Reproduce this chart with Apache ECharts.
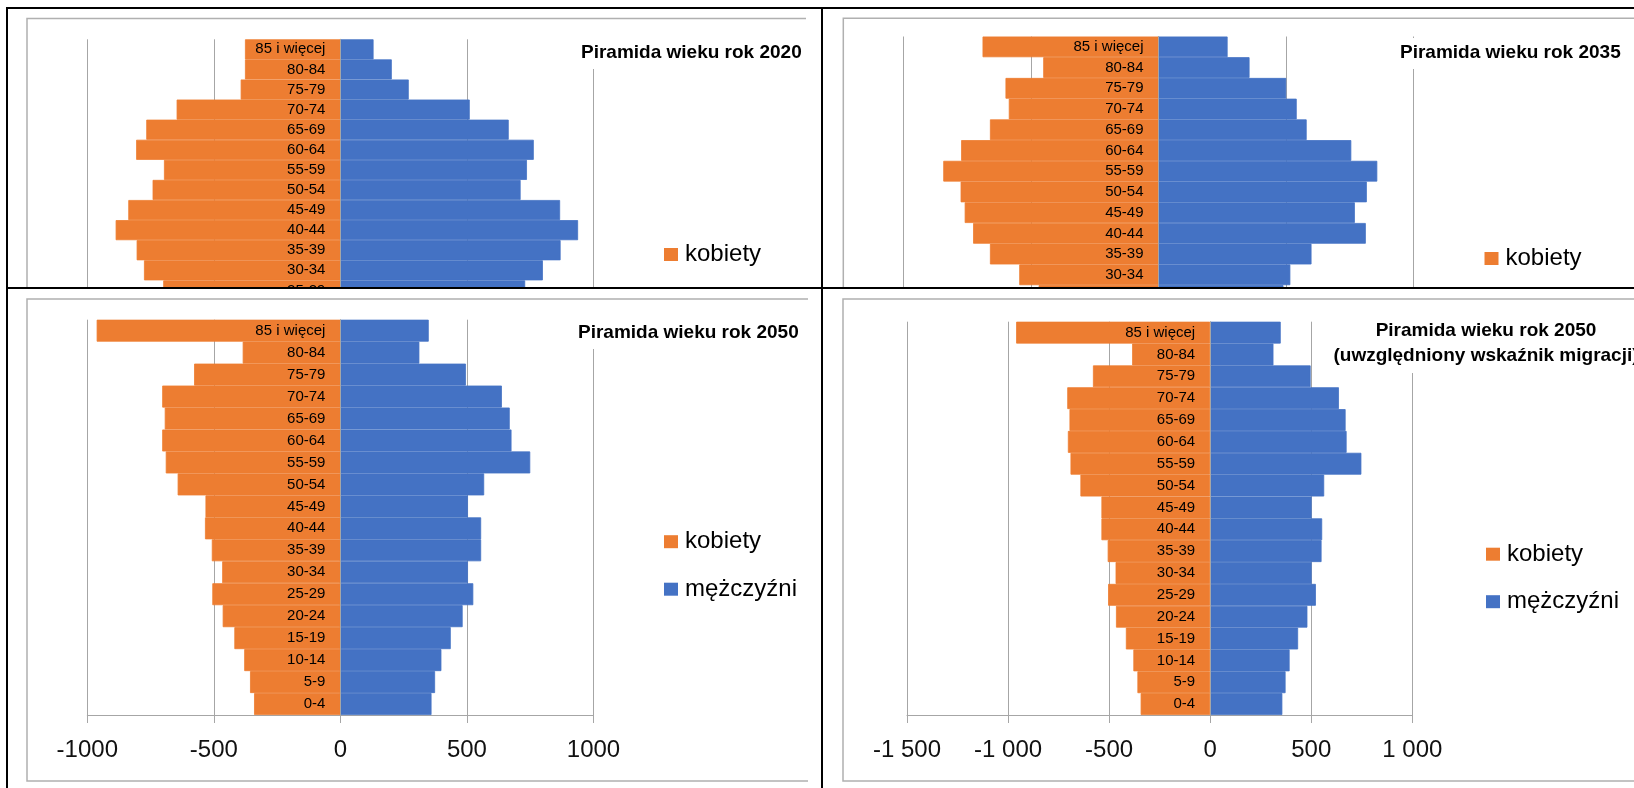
<!DOCTYPE html>
<html lang="pl">
<head>
<meta charset="UTF-8">
<title>Piramida wieku</title>
<script src="https://cdn.jsdelivr.net/npm/echarts@6/dist/echarts.min.js"></script>
<style>
    body { margin: 0; background: #fff; width: 1634px; height: 788px; overflow: hidden; position: relative; }
    .box { position: absolute; overflow: hidden; }
    .line { position: absolute; background: #000; z-index: 10; }
</style>
</head>
<body>
<div class="box" style="left:0;top:0;width:821px;height:287px"><div id="c2020" style="width:821px;height:470px"></div></div>
<div class="box" style="left:823px;top:0;width:811px;height:287px"><div id="c2035" style="width:811px;height:470px"></div></div>
<div class="box" style="left:0;top:289px;width:821px;height:499px"><div id="c2050" style="width:821px;height:499px"></div></div>
<div class="box" style="left:823px;top:289px;width:811px;height:499px"><div id="c2050m" style="width:811px;height:499px"></div></div>

<div class="line" style="left:6px;top:7px;width:2px;height:781px"></div>
<div class="line" style="left:6px;top:7px;width:1628px;height:2px"></div>
<div class="line" style="left:821px;top:7px;width:2px;height:781px"></div>
<div class="line" style="left:6px;top:287px;width:1628px;height:2px"></div>

<script>
    // grupy wieku, od dołu do góry
    var categories = ['0-4', '5-9', '10-14', '15-19', '20-24', '25-29', '30-34', '35-39', '40-44',
        '45-49', '50-54', '55-59', '60-64', '65-69', '70-74', '75-79', '80-84', '85 i więcej'];

    var women2020 = [-560, -600, -540, -520, -600, -700, -776, -805, -888, -838, -742, -697, -807, -767, -647, -394, -377, -377];
    var men2020 = [590, 630, 570, 545, 630, 730, 800, 870, 939, 868, 712, 737, 764, 665, 511, 270, 203, 131];

    var women2035 = [-470, -520, -540, -500, -450, -470, -546, -661, -727, -760, -776, -844, -774, -661, -587, -600, -452, -690];
    var men2035 = [495, 545, 560, 520, 470, 490, 517, 600, 813, 770, 817, 858, 756, 581, 542, 501, 357, 271];

    var women2050 = [-341, -357, -380, -419, -465, -506, -467, -508, -535, -533, -643, -690, -704, -694, -704, -578, -386, -963];
    var men2050 = [360, 374, 399, 436, 483, 525, 504, 556, 556, 504, 568, 750, 676, 669, 638, 496, 312, 349];

    var women2050m = [-344, -360, -380, -417, -466, -505, -468, -507, -538, -538, -642, -691, -704, -696, -707, -580, -386, -960];
    var men2050m = [357, 373, 393, 435, 481, 523, 502, 551, 554, 502, 564, 748, 675, 670, 637, 497, 313, 349];

    var ticksA = ['-1000', '-500', '0', '500', '1000'];
    var ticksB = ['-1 500', '-1 000', '-500', '0', '500', '1 000'];

    var FONT = "'Liberation Sans', Arial, sans-serif";
    var GRAY = '#a6a6a6';
    var ORANGE = '#ed7d31';
    var BLUE = '#4472c4';

    function pyramid(id, p) {
        var chart = echarts.init(document.getElementById(id));
        // przesunięcie osi kategorii na wartość 0
        var zeroShift = p.grid.width * (0 - p.min) / (p.max - p.min);
        var f = p.frame;
        chart.setOption({
            animation: false,
            textStyle: {fontFamily: FONT},
            title: {
                text: p.title,
                left: p.titleLeft,
                top: p.titleTop,
                textAlign: p.titleAlign,
                padding: [4, 6, 5, 6],
                backgroundColor: '#fff',
                textStyle: {fontFamily: FONT, fontSize: 19, fontWeight: 'bold', color: '#000', lineHeight: p.titleLH || 22}
            },
            legend: {
                data: ['kobiety', 'mężczyźni'],
                orient: 'vertical',
                left: p.legendLeft,
                top: p.legendTop,
                padding: 0,
                itemWidth: 14,
                itemHeight: 13,
                itemGap: 23.5,
                icon: 'rect',
                itemStyle: {borderWidth: 0},
                textStyle: {fontFamily: FONT, fontSize: 24, lineHeight: 24, color: '#000', padding: [0, 0, 0, 2]}
            },
            graphic: [{
                type: 'polyline',
                shape: {points: [[f.x2, f.y1], [f.x1, f.y1], [f.x1, f.y2], [f.x2, f.y2]]},
                style: {fill: 'none', stroke: '#b0b0b0', lineWidth: 1.5},
                silent: true
            }],
            grid: p.grid,
            xAxis: {
                type: 'value',
                min: p.min,
                max: p.max,
                interval: 500,
                axisLine: {show: true, onZero: false, lineStyle: {color: GRAY}},
                axisTick: {show: true, length: 8, lineStyle: {color: GRAY}},
                splitLine: {show: true, lineStyle: {color: GRAY, width: 1}},
                axisLabel: {
                    margin: 23,
                    fontSize: 24,
                    lineHeight: 24,
                    color: '#111',
                    fontFamily: FONT,
                    formatter: function (v) { return p.ticks[Math.round((v - p.min) / 500)]; }
                }
            },
            yAxis: {
                type: 'category',
                data: categories,
                z: 5,
                offset: -zeroShift,
                axisLine: {onZero: false, lineStyle: {color: GRAY}},
                axisTick: {length: 5, lineStyle: {color: GRAY}},
                axisLabel: {margin: 15, fontSize: 15, color: '#000', fontFamily: FONT}
            },
            series: [
                {name: 'kobiety', type: 'bar', data: p.women, barGap: '-100%', barCategoryGap: 0,
                    itemStyle: {color: ORANGE, borderColor: ORANGE, borderWidth: 0.8}},
                {name: 'mężczyźni', type: 'bar', data: p.men, barGap: '-100%', barCategoryGap: 0,
                    itemStyle: {color: BLUE, borderColor: BLUE, borderWidth: 0.8}}
            ]
        });
    }

    pyramid('c2020', {
        title: 'Piramida wieku rok 2020', titleLeft: 575, titleTop: 38,
        legendLeft: 664, legendTop: 242.5,
        grid: {left: 87.3, top: 39.3, width: 506.2, height: 361.6},
        frame: {x1: 27, y1: 18.5, x2: 806, y2: 700},
        min: -1000, max: 1000, ticks: ticksA,
        women: women2020, men: men2020
    });

    pyramid('c2035', {
        title: 'Piramida wieku rok 2035', titleLeft: 571, titleTop: 38,
        legendLeft: 661.5, legendTop: 246.5,
        grid: {left: 80.5, top: 36.5, width: 510, height: 373},
        frame: {x1: 20.3, y1: 18.3, x2: 1000, y2: 700},
        min: -1000, max: 1000, ticks: ticksA,
        women: women2035, men: men2035
    });

    pyramid('c2050', {
        title: 'Piramida wieku rok 2050', titleLeft: 572, titleTop: 29,
        legendLeft: 664, legendTop: 240.7,
        grid: {left: 87.3, top: 30.7, width: 506.2, height: 395.3},
        frame: {x1: 27, y1: 10, x2: 808, y2: 492},
        min: -1000, max: 1000, ticks: ticksA,
        women: women2050, men: men2050
    });

    pyramid('c2050m', {
        title: 'Piramida wieku rok 2050\n(uwzględniony wskaźnik migracji)', titleLeft: 657, titleTop: 25,
        titleAlign: 'center', titleLH: 25,
        legendLeft: 663, legendTop: 253.2,
        grid: {left: 84, top: 32.7, width: 505.3, height: 393.3},
        frame: {x1: 20, y1: 10, x2: 1000, y2: 492},
        min: -1500, max: 1000, ticks: ticksB,
        women: women2050m, men: men2050m
    });
</script>
</body>
</html>
